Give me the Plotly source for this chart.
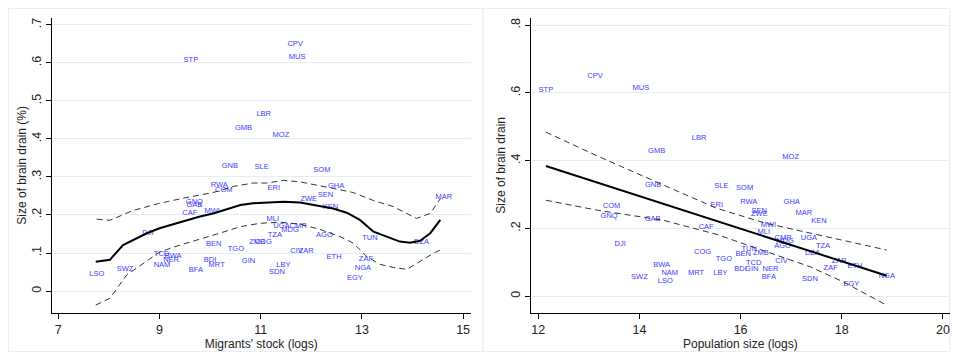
import plotly.graph_objects as go

# ---------------- data ----------------
iso = ["STP","CPV","MUS","LBR","GMB","MOZ","GNB","SLE","SOM","RWA","COM","ERI","GHA","SEN","ZWE","KEN","MAR",
       "GNQ","GAB","CAF","MWI","MLI","UGA","CMR","MDG","TZA","AGO","TUN","DZA","DJI","BEN","TGO","ZMB","COG",
       "CIV","ZAR","ETH","ZAF","NGA","EGY","LBY","SDN","GIN","BDI","MRT","BFA","TCD","BWA","NER","NAM","SWZ","LSO"]
brain_drain = [0.608,0.649,0.615,0.466,0.428,0.410,0.329,0.325,0.318,0.278,0.266,0.270,0.276,0.252,0.241,0.221,0.246,
               0.235,0.227,0.204,0.210,0.190,0.170,0.171,0.161,0.148,0.148,0.140,0.128,0.153,0.123,0.110,0.128,0.129,
               0.104,0.104,0.088,0.084,0.060,0.034,0.068,0.051,0.079,0.081,0.067,0.055,0.098,0.091,0.080,0.067,0.057,0.044]
migrants_stock = [9.62,11.68,11.72,11.06,10.66,11.40,10.39,11.02,12.21,10.18,10.27,11.26,12.49,12.28,11.95,12.38,14.62,
                  9.69,9.69,9.60,10.04,11.24,11.41,11.74,11.58,11.28,12.26,13.16,14.18,8.77,10.07,10.51,10.93,11.05,
                  11.71,11.90,12.45,13.08,13.02,12.86,11.45,11.32,10.76,10.00,10.13,9.72,9.04,9.27,9.23,9.05,8.32,7.76]
population = [12.15,13.12,14.03,15.18,14.34,16.99,14.27,15.62,16.08,16.16,13.45,15.53,17.01,16.37,16.37,17.55,17.25,
              13.40,14.26,15.32,16.55,16.46,17.35,16.84,16.88,17.63,16.83,16.17,17.42,13.62,16.05,15.67,16.40,15.25,
              16.81,17.95,18.26,17.78,18.89,18.19,15.60,17.37,16.22,16.00,15.12,16.56,16.26,14.44,16.59,14.60,14.00,14.51]

# left panel: smoothed fit and confidence band
lo_x = [7.74,8.02,8.28,8.50,8.75,9.00,9.27,9.54,9.80,10.06,10.33,10.60,10.85,11.12,11.45,11.78,12.10,12.43,12.70,12.96,
        13.23,13.50,13.75,13.95,14.15,14.35,14.55]
lo_y = [0.077,0.082,0.121,0.136,0.152,0.165,0.176,0.187,0.196,0.204,0.215,0.226,0.231,0.232,0.235,0.233,0.226,0.217,0.206,
        0.187,0.156,0.143,0.130,0.127,0.132,0.152,0.187]
lo_up_x = [7.76,8.02,8.48,9.01,9.54,10.06,10.46,10.85,11.12,11.45,11.78,12.11,12.43,12.83,13.23,13.62,14.08,14.35,14.55]
lo_up_y = [0.189,0.186,0.212,0.231,0.246,0.259,0.275,0.284,0.284,0.291,0.287,0.279,0.270,0.259,0.238,0.222,0.191,0.204,0.243]
lo_dn_x = [7.74,8.02,8.35,8.68,9.01,9.41,9.80,10.19,10.59,10.98,11.38,11.78,12.17,12.57,12.83,13.10,13.36,13.62,13.89,
           14.15,14.41,14.61]
lo_dn_y = [-0.037,-0.019,0.042,0.073,0.103,0.121,0.136,0.152,0.169,0.178,0.181,0.176,0.162,0.143,0.126,0.090,0.070,0.062,
           0.057,0.077,0.099,0.112]

# right panel: linear fit and confidence band
lin_x = [12.15,18.89]
lin_y = [0.384,0.060]
ci_up_x = [12.15,13.15,14.47,15.53,16.50,17.70,18.89]
ci_up_y = [0.484,0.415,0.328,0.259,0.215,0.175,0.136]
ci_dn_x = [12.15,13.15,14.47,15.53,16.30,17.37,18.03,18.89]
ci_dn_y = [0.283,0.254,0.224,0.182,0.142,0.087,0.042,-0.027]

left_yticks = [0,0.1,0.2,0.3,0.4,0.5,0.6,0.7]
left_yticktext = ["0",".1",".2",".3",".4",".5",".6",".7"]
left_xticks = [7,9,11,13,15]
right_yticks = [0,0.2,0.4,0.6,0.8]
right_yticktext = ["0",".2",".4",".6",".8"]
right_xticks = [12,14,16,18,20]

# ---------------- figure ----------------
OFF = 8                      # page body margin
W, H = 958 - OFF, 360 - OFF
FONT = "Arial, Liberation Sans, sans-serif"
LABEL_COLOR = "#3b3bff"

fig = go.Figure()

def add_panel(xv, xa, ya, fit_x, fit_y, up_x, up_y, dn_x, dn_y):
    fig.add_trace(go.Scatter(x=xv, y=brain_drain, text=iso, mode="text",
                             textfont=dict(family=FONT, size=7.5, color=LABEL_COLOR),
                             textposition="middle center", xaxis=xa, yaxis=ya,
                             showlegend=False, hoverinfo="skip"))
    fig.add_trace(go.Scatter(x=up_x, y=up_y, mode="lines", line=dict(color="#333333", width=1, dash="6px,4px"),
                             xaxis=xa, yaxis=ya, showlegend=False, hoverinfo="skip"))
    fig.add_trace(go.Scatter(x=dn_x, y=dn_y, mode="lines", line=dict(color="#333333", width=1, dash="6px,4px"),
                             xaxis=xa, yaxis=ya, showlegend=False, hoverinfo="skip"))
    fig.add_trace(go.Scatter(x=fit_x, y=fit_y, mode="lines", line=dict(color="black", width=2),
                             xaxis=xa, yaxis=ya, showlegend=False, hoverinfo="skip"))

add_panel(migrants_stock, "x", "y", lo_x, lo_y, lo_up_x, lo_up_y, lo_dn_x, lo_dn_y)
add_panel(population, "x2", "y2", lin_x, lin_y, ci_up_x, ci_up_y, ci_dn_x, ci_dn_y)

def px_x(p):
    return (p - OFF) / W

def px_y(p):
    return 1 - (p - OFF) / H

ydom = [px_y(312.7), px_y(18)]
common_x = dict(showline=True, linecolor="black", linewidth=1, ticks="outside", ticklen=5, tickcolor="black",
                showgrid=False, zeroline=False, mirror=False, automargin=False,
                tickfont=dict(family=FONT, size=12.5, color="#222"),
                title_font=dict(family=FONT, size=12, color="#222"), title_standoff=0)
common_y = dict(showline=True, linecolor="black", linewidth=1, ticks="outside", ticklen=5, tickcolor="black",
                showgrid=True, gridcolor="#e4eef0", gridwidth=1, zeroline=False, mirror=False, automargin=False,
                tickangle=-90, tickfont=dict(family=FONT, size=12.5, color="#222"),
                title_font=dict(family=FONT, size=12, color="#222"), title_standoff=0)

fig.update_layout(
    width=W, height=H, margin=dict(l=0, r=0, t=0, b=0),
    paper_bgcolor="white", plot_bgcolor="white",
    xaxis=dict(domain=[px_x(51.7), px_x(470.7)], range=[6.87, 15.15], tickvals=left_xticks,
               title_text="Migrants' stock (logs)", anchor="y", **common_x),
    yaxis=dict(domain=ydom, range=[-0.057, 0.718], tickvals=left_yticks, ticktext=left_yticktext,
               title_text="Size of brain drain (%)", anchor="x", **common_y),
    xaxis2=dict(domain=[px_x(530.7), px_x(950)], range=[11.85, 20.14], tickvals=right_xticks,
                title_text="Population size (logs)", anchor="y2", **common_x),
    yaxis2=dict(domain=ydom, range=[-0.049, 0.821], tickvals=right_yticks, ticktext=right_yticktext,
                title_text="Size of brain drain", anchor="x2", **common_y),
    shapes=[
        dict(type="rect", xref="paper", yref="paper", x0=px_x(8.5), x1=px_x(483), y0=px_y(351.5), y1=px_y(8.5),
             line=dict(color="#e8eef3", width=1), layer="below"),
        dict(type="rect", xref="paper", yref="paper", x0=px_x(483), x1=px_x(949.5), y0=px_y(351.5), y1=px_y(8.5),
             line=dict(color="#e8eef3", width=1), layer="below"),
    ],
)

fig.write_html("out.html")
